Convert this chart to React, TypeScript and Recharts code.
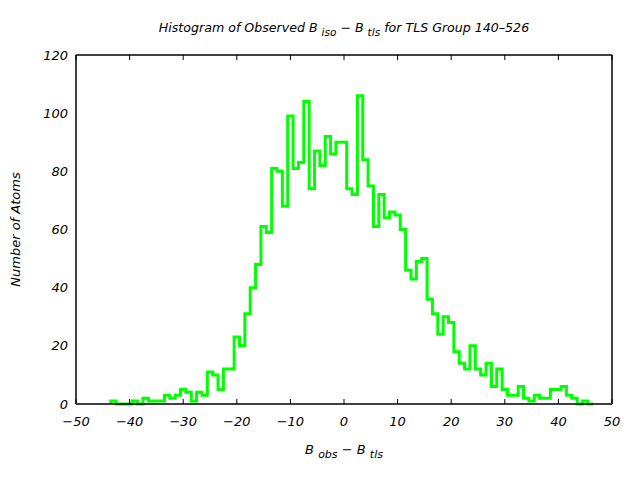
import { LineChart, Line, XAxis, YAxis } from "recharts";

// bin centres (width 1) and atom counts
const binCenters = Array.from({ length: 90 }, (_, i) => -43 + i);
const counts = [
  1, 0, 0, 0, 1, 0, 2, 1, 1, 1,
  3, 2, 3, 5, 4, 1, 4, 3, 11, 10,
  5, 12, 12, 23, 20, 31, 40, 48, 61, 59,
  81, 80, 68, 99, 81, 83, 104, 74, 87, 82,
  92, 86, 90, 90, 74, 72, 106, 84, 75, 61,
  72, 64, 66, 65, 60, 46, 43, 49, 50, 36,
  31, 24, 30, 28, 18, 14, 12, 20, 12, 10,
  14, 6, 12, 5, 3, 3, 6, 2, 1, 3,
  2, 2, 5, 5, 6, 3, 2, 0, 1, 0,
];

const xTicks = [-50, -40, -30, -20, -10, 0, 10, 20, 30, 40, 50];
const yTicks = [0, 20, 40, 60, 80, 100, 120];

// step outline: left edge of each bin, plus closing points
const points = [
  { x: binCenters[0] - 0.5, y: 0 },
  ...binCenters.map((c, i) => ({ x: c - 0.5, y: counts[i] })),
  { x: binCenters[binCenters.length - 1] + 0.5, y: counts[counts.length - 1] },
];

const FONT = "'DejaVu Sans', sans-serif";
const tickStyle = { fill: "#000", fontSize: 13, fontStyle: "italic", fontFamily: FONT };
const blank = () => "";
const fmt = (v: number) => String(v).replace("-", "\u2212");

export default function App() {
  return (
    <div style={{ position: "absolute", left: 0, top: 0, width: 640, height: 480, background: "#fff", fontFamily: FONT }}>
      <LineChart width={640} height={480} data={points} margin={{ top: 55, right: 28, bottom: 46, left: 26 }}>
        <XAxis
          xAxisId="b"
          dataKey="x"
          type="number"
          domain={[-50, 50]}
          ticks={xTicks}
          height={30}
          tickLine={false}
          tickSize={0}
          tickMargin={13}
          tickFormatter={fmt}
          tick={tickStyle}
          axisLine={{ stroke: "#000", strokeWidth: 1.5 }}
        />
        <XAxis xAxisId="bIn" dataKey="x" type="number" domain={[-50, 50]} ticks={xTicks} mirror tickSize={5} tickFormatter={blank} axisLine={false} tickLine={{ stroke: "#000" }} />
        <XAxis xAxisId="t" orientation="top" dataKey="x" type="number" domain={[-50, 50]} ticks={xTicks} mirror tickSize={5} tickFormatter={blank} axisLine={{ stroke: "#000", strokeWidth: 1.5 }} tickLine={{ stroke: "#000" }} />
        <YAxis
          yAxisId="l"
          type="number"
          domain={[0, 120]}
          ticks={yTicks}
          width={50}
          tickLine={false}
          tickSize={0}
          tickMargin={8}
          tick={tickStyle}
          axisLine={{ stroke: "#000", strokeWidth: 1.5 }}
        />
        <YAxis yAxisId="lIn" type="number" domain={[0, 120]} ticks={yTicks} mirror tickSize={5} tickFormatter={blank} axisLine={false} tickLine={{ stroke: "#000" }} />
        <YAxis yAxisId="r" orientation="right" type="number" domain={[0, 120]} ticks={yTicks} mirror tickSize={5} tickFormatter={blank} axisLine={{ stroke: "#000", strokeWidth: 1.5 }} tickLine={{ stroke: "#000" }} />
        <Line
          xAxisId="b"
          yAxisId="l"
          type="stepAfter"
          dataKey="y"
          stroke="#00ff00"
          strokeWidth={3}
          dot={false}
          activeDot={false}
          isAnimationActive={false}
        />
      </LineChart>
      <div style={{ position: "absolute", left: 0, width: 688, top: 20, textAlign: "center", fontSize: 12.6, fontStyle: "italic" }}>
        Histogram of Observed B <sub style={{ fontSize: 10.5 }}>iso</sub> {"\u2212"} B <sub style={{ fontSize: 10.5 }}>tls</sub> for TLS Group 140{"\u2013"}526
      </div>
      <div style={{ position: "absolute", left: 0, width: 688, top: 442, textAlign: "center", fontSize: 13, fontStyle: "italic" }}>
        B <sub style={{ fontSize: 11 }}>obs</sub> {"\u2212"} B <sub style={{ fontSize: 11 }}>tls</sub>
      </div>
      <div style={{ position: "absolute", left: 15, top: 231, width: 0, height: 0 }}>
        <div style={{ position: "absolute", left: -100, top: -9, width: 200, textAlign: "center", fontSize: 13, fontStyle: "italic", transform: "rotate(-90deg)", whiteSpace: "nowrap" }}>
          Number of Atoms
        </div>
      </div>
    </div>
  );
}
